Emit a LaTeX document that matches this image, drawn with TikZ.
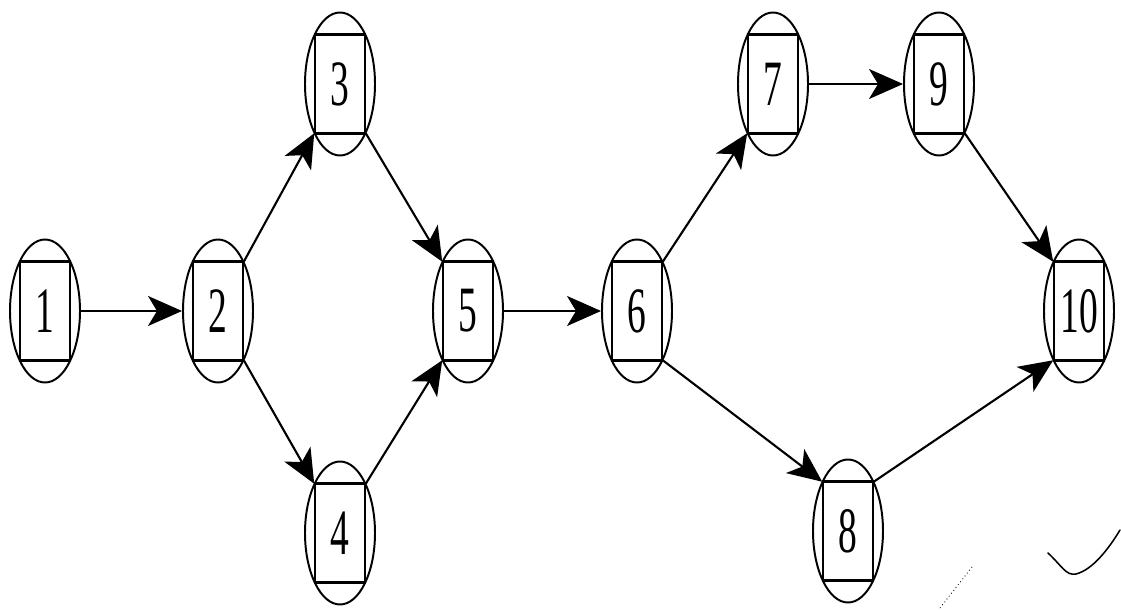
\documentclass[tikz,border=0pt]{standalone}
\usepackage{fontspec}
\usepackage{graphicx}
\setmainfont{Liberation Serif}
\usetikzlibrary{shapes.geometric,arrows.meta}

\newcommand{\evnum}[1]{\fontsize{46}{46}\selectfont\scalebox{0.58}[1]{#1}}

\tikzset{
  evoval/.style={ellipse, draw, line width=1.4pt, inner sep=0pt,
    minimum width=70*0.025cm, minimum height=143*0.025cm},
  evbox/.style={rectangle, draw, line width=1.1pt, inner sep=0pt,
    minimum width=50*0.025cm, minimum height=97*0.025cm},
  evbar/.style={line width=2pt},
  flow/.style={line width=1.5pt,
    -{Stealth[length=34*0.025cm, width=30*0.025cm, inset=9*0.025cm]}},
  scrawl/.style={line width=1.1pt, line cap=round}
}

% an event: an oval with a box inscribed in it, the box carrying the number;
% the top and bottom edges of the box are drawn heavier
\newcommand{\event}[3]{%
  \node[evoval] (e#1) at (#2,#3) {};
  \node[evbox] (n#1) at (#2,#3) {\evnum{#1}};
  \draw[evbar] (n#1.north west) -- (n#1.north east);
  \draw[evbar] (n#1.south west) -- (n#1.south east);
}

\begin{document}
\begin{tikzpicture}[x=0.025cm, y=-0.025cm]
\useasboundingbox (0,0) rectangle (1121,610);

\event{1}{45}{311}
\event{2}{218}{311}
\event{3}{340}{84}
\event{4}{340}{533}
\event{5}{468}{311}
\event{6}{637}{311}
\event{7}{773}{84}
\event{8}{848}{531}
\event{9}{939}{84}
\event{10}{1079}{311}

\draw[flow] (e1.east) -- (e2.west);
\draw[flow] (n2.north east) -- (n3.south west);
\draw[flow] (n2.south east) -- (n4.north west);
\draw[flow] (n3.south east) -- (n5.north west);
\draw[flow] (n4.north east) -- (n5.south west);
\draw[flow] (e5.east) -- (e6.west);
\draw[flow] (n6.north east) -- (n7.south west);
\draw[flow] (n6.south east) -- (n8.north west);
\draw[flow] (e7.east) -- (e9.west);
\draw[flow] (n9.south east) -- (n10.north west);
\draw[flow] (n8.north east) -- (n10.south west);

% pen strokes in the lower right corner
\draw[scrawl] (1048,553) .. controls (1062,566) and (1066,576) .. (1076,574)
  .. controls (1092,570) and (1108,550) .. (1120,530);
\draw[line width=0.6pt, dotted] (940,608) -- (972,567);
\end{tikzpicture}
\end{document}
